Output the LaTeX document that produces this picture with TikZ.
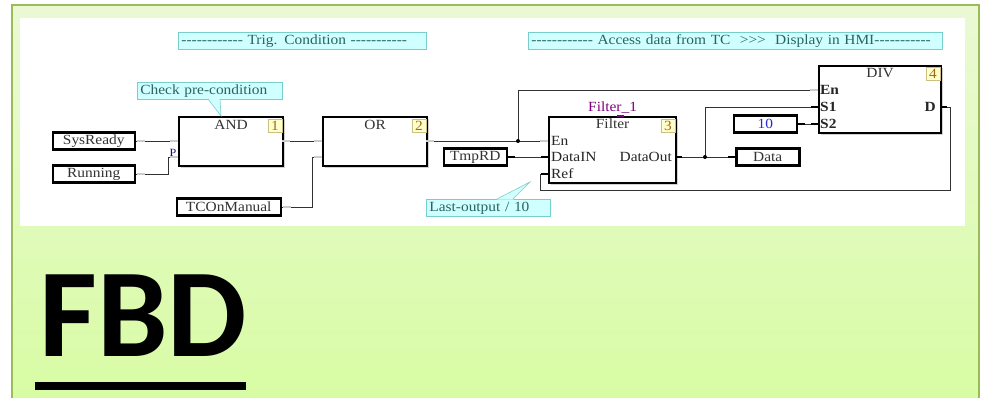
\documentclass[tikz,border=0pt]{standalone}
\usepackage{fontspec}
\setmainfont{Liberation Serif}[Ligatures=TeXOff, FakeStretch=1.1]
\newfontfamily\fbdsans{Carlito}
\usetikzlibrary{positioning,shadows}
\definecolor{frameGreen}{RGB}{155,187,89}
\definecolor{bgTop}{RGB}{234,249,212}
\definecolor{bgBot}{RGB}{216,252,164}
\definecolor{noteFill}{RGB}{208,255,255}
\definecolor{noteLine}{RGB}{120,205,205}
\definecolor{noteText}{RGB}{40,100,100}
\definecolor{idxFill}{RGB}{255,255,204}
\definecolor{idxLine}{RGB}{205,190,130}
\definecolor{idxText}{RGB}{160,105,20}
\definecolor{wireGray}{RGB}{50,50,50}
\definecolor{instPurple}{RGB}{128,0,128}
\definecolor{constBlue}{RGB}{40,40,220}

\begin{document}
\begin{tikzpicture}[
  x=1pt, y=-1pt,
  every node/.style={font=\fontsize{14}{16}\selectfont, inner sep=0pt},
  fblock/.style={draw, line width=2.2pt, fill=white, anchor=north west,
    drop shadow={shadow xshift=1.5pt, shadow yshift=-1.5pt, fill=black!35}},
  varbox/.style={draw, line width=2.5pt, fill=white, text=black!80, minimum height=17pt,
    drop shadow={shadow xshift=1.5pt, shadow yshift=-1.5pt, fill=black!35}},
  note/.style={draw=noteLine, fill=noteFill, text=noteText, line width=0.8pt, anchor=north west,
    minimum height=17pt, inner xsep=3pt, align=left},
  idx/.style={draw=idxLine, fill=idxFill, text=idxText, minimum width=14pt, minimum height=13pt},
  fbname/.style={text=black!80},
  pinlbl/.style={text=black!85},
  wire/.style={draw=wireGray, line width=1pt},
  boolpin/.style={draw=black!75, double=black!20, double distance=1.2pt, line width=0.8pt},
  datapin/.style={draw=black, line width=2.6pt},
  junction/.style={circle, fill=black, minimum size=4pt}
]
  \useasboundingbox (0,0) rectangle (984,397);
  % frame and drawing sheet
  \shade[top color=bgTop, bottom color=bgBot] (12,5) rectangle (979,400);
  \draw[frameGreen, line width=2.5pt] (12,400) -- (12,5) -- (979,5) -- (979,400);
  \fill[white] (20,18) rectangle (965,226);

  % comments
  \node[note, text width=242pt] (trig) at (178,32) {\mbox{------------ Trig. Condition -----------}};
  \node[note, text width=408pt] (access) at (528,32) {\mbox{------------ Access data from TC \ >>> \ Display in HMI-----------}};

  % function blocks
  \node[fblock, minimum width=104pt, minimum height=49pt] (and) at (178,116) {};
  \node[fbname, below=4pt of and.north] {AND};
  \node[idx, below left=3pt and 2pt of and.north east] {1};
  \node[fblock, minimum width=104pt, minimum height=49pt] (or) at (322,116) {};
  \node[fbname, below=4pt of or.north] {OR};
  \node[idx, below left=3pt and 2pt of or.north east] {2};
  \node[fblock, minimum width=127pt, minimum height=66pt] (flt) at (548,116) {};
  \node[fbname, below=3pt of flt.north] {Filter};
  \node[idx, below left=3pt and 2pt of flt.north east] {3};
  \node[text=instPurple, above=3pt of flt.north] {Filter\_1};
  \draw[instPurple, line width=2pt] ([xshift=69pt]flt.north west) -- ++(7,0);
  \node[fblock, minimum width=122pt, minimum height=67pt] (div) at (818,65) {};
  \node[fbname, below=3pt of div.north] {DIV};
  \node[idx, below left=2pt and 2pt of div.north east] {4};

  % pins
  \coordinate (and-in1) at (178,141);
  \coordinate (and-in2) at (178,157);
  \coordinate (and-out) at (282,141);
  \coordinate (or-in1) at (322,141);
  \coordinate (or-in2) at (322,157);
  \coordinate (or-out) at (426,141);
  \coordinate (flt-en) at (548,141);
  \coordinate (flt-in) at (548,157);
  \coordinate (flt-ref) at (548,174);
  \coordinate (flt-out) at (675,157);
  \coordinate (div-en) at (818,90);
  \coordinate (div-s1) at (818,107);
  \coordinate (div-s2) at (818,124);
  \coordinate (div-d) at (940,107);

  \node[pinlbl, anchor=west, xshift=3pt] at (flt-en) {En};
  \node[pinlbl, anchor=west, xshift=3pt] at (flt-in) {DataIN};
  \node[pinlbl, anchor=west, xshift=3pt] at (flt-ref) {Ref};
  \node[pinlbl, anchor=east, xshift=-3pt] at (flt-out) {DataOut};
  \node[pinlbl, anchor=west, xshift=2pt, font=\fontsize{14}{16}\selectfont\bfseries] at (div-en) {En};
  \node[pinlbl, anchor=west, xshift=2pt, font=\fontsize{14}{16}\selectfont\bfseries] at (div-s1) {S1};
  \node[pinlbl, anchor=west, xshift=2pt, font=\fontsize{14}{16}\selectfont\bfseries] at (div-s2) {S2};
  \node[pinlbl, anchor=east, xshift=-4pt, font=\fontsize{14}{16}\selectfont\bfseries] at (div-d) {D};
  \node[text=constBlue!50!black, font=\fontsize{11}{12}\selectfont, anchor=south] at (173,157) {P};

  % variables
  \node[varbox, anchor=east, minimum width=82pt] (sysready) at (136,141) {SysReady};
  \node[varbox, anchor=east, minimum width=82pt] (running) at (136,174) {Running};
  \node[varbox, anchor=east, minimum width=104pt] (tcman) at (282,207) {TCOnManual};
  \node[varbox, anchor=east, minimum width=63pt] (tmprd) at (508,157) {TmpRD};
  \node[varbox, anchor=east, minimum width=63pt, text=constBlue] (ten) at (798,124) {10};
  \node[varbox, anchor=west, minimum width=63pt] (data) at (735,157) {Data};

  % callouts
  \node[note, text width=139pt] (precond) at (137,82) {\mbox{Check pre-condition}};
  \fill[noteFill] (208,98.4) -- (220,98.4) -- (221,116) -- cycle;
  \draw[noteLine, line width=0.6pt] (208,99) -- (221,116) -- (220,99);
  \node[note, text width=118pt] (lastout) at (426,199) {\mbox{Last-output / 10}};
  \fill[noteFill] (497,199.6) -- (513,199.6) -- (530,182) -- cycle;
  \draw[noteLine, line width=0.6pt] (497,199) -- (530,182) -- (513,199);

  % wires
  \coordinate (j-en) at (518,141);
  \coordinate (j-out) at (705,157);
  \coordinate (loop) at (540,190);
  \draw[wire] (sysready.east) -- (and-in1);
  \draw[wire] (running.east) -- ++(32,0) |- (and-in2);
  \draw[wire] (and-out) -- (or-in1);
  \draw[wire] (tcman.east) -- ++(30,0) |- (or-in2);
  \draw[wire] (or-out) -- (flt-en);
  \draw[wire] (j-en) |- (div-en);
  \draw[wire] (tmprd.east) -- (flt-in);
  \draw[wire] (flt-out) -- (data.west);
  \draw[wire] (j-out) |- (div-s1);
  \draw[wire] (ten.east) -- (div-s2);
  \draw[wire] (div-d) -- ++(10,0) |- (loop) |- (flt-ref);
  \node[junction] at (j-en) {};
  \node[junction] at (j-out) {};

  % pin stubs
  \foreach \p in {and-in1, and-in2, or-in1, or-in2, flt-en, div-en}
    \draw[boolpin] (\p) -- ++(-8,0);
  \foreach \p in {and-out, or-out}
    \draw[boolpin] (\p) -- ++(8,0);
  \foreach \v in {sysready, running, tcman}
    \draw[boolpin] ([xshift=1.2pt]\v.east) -- ++(8,0);
  \foreach \p in {flt-in, flt-ref, div-s1, div-s2}
    \draw[datapin] (\p) -- ++(-7,0);
  \draw[datapin] (data.west) -- ++(-7,0);
  \foreach \p in {flt-out, div-d}
    \draw[datapin] (\p) -- ++(7,0);
  \foreach \v in {tmprd, ten}
    \draw[datapin] (\v.east) -- ++(7,0);

  % title
  \node[font=\fbdsans\bfseries\fontsize{126}{126}\selectfont, anchor=south west] (fbd) at (39,357) {FBD};
  \fill[black] (35,382) rectangle (246,390);
\end{tikzpicture}
\end{document}
